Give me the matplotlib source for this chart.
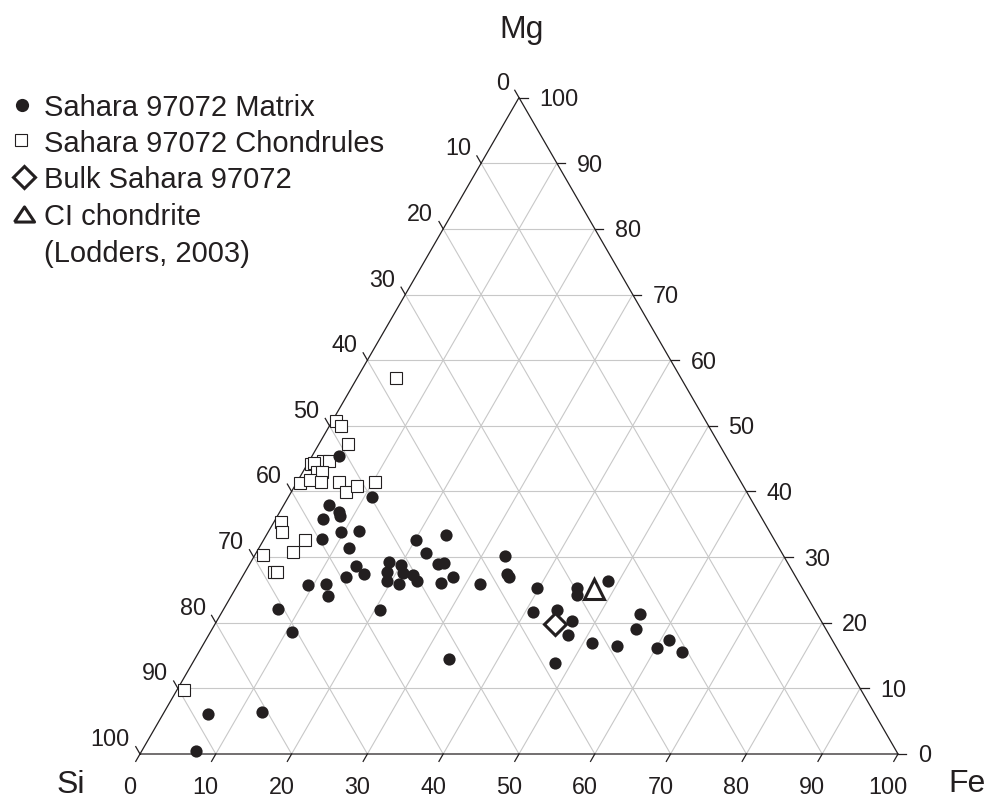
import numpy as np
import matplotlib
matplotlib.use("Agg")
import matplotlib.pyplot as plt
from matplotlib.markers import MarkerStyle

plt.rcParams['font.family'] = ['Liberation Sans', 'DejaVu Sans']

INK = '#231f20'
GRID = '#c8c8c8'

# ---------------- data (atomic-ish %, Si + Fe + Mg = 100) ----------------
matrix_fe = [3.6, 11.0, 5.9, 7.8, 8.3, 6.2, 9.6, 11.9, 7.7, 11.9,
             20.1, 23.7, 22.4, 14.1, 13.7, 15.9, 18.2, 18.8, 19.4, 20.0,
             20.9, 22.4, 23.4, 21.2, 24.9, 25.5, 26.7, 27.8, 9.2, 11.6,
             12.8, 7.2, 20.7, 10.7, 33.6, 5.9, 12.9, 7.2, 31.9, 33.0,
             34.7, 35.2, 39.7, 41.0, 44.0, 46.9, 47.4, 45.0, 45.5, 48.5,
             51.2, 54.7, 55.2, 55.9, 60.2, 61.1, 63.8, 47.8]
matrix_mg = [45.4, 39.2, 38.0, 36.9, 36.3, 35.8, 33.8, 33.9, 32.7, 31.4,
             32.6, 33.4, 30.6, 28.7, 27.0, 27.4, 29.2, 27.7, 26.3, 28.8,
             27.6, 27.3, 26.3, 25.9, 28.9, 29.1, 26.0, 26.9, 25.8, 25.9,
             24.1, 22.1, 22.0, 18.6, 14.4, 6.1, 6.4, 0.5, 25.9, 30.2,
             27.4, 27.0, 25.3, 21.7, 22.0, 20.2, 18.1, 25.3, 24.2, 26.4,
             16.9, 16.5, 21.4, 19.1, 16.1, 17.4, 15.5, 13.9]
matrix_si = [51.0, 49.8, 56.1, 55.3, 55.4, 58.0, 56.6, 54.2, 59.6, 56.7,
             47.3, 42.9, 47.0, 57.2, 59.3, 56.7, 52.6, 53.5, 54.3, 51.2,
             51.5, 50.3, 50.3, 52.9, 46.2, 45.4, 47.3, 45.3, 65.0, 62.5,
             63.1, 70.7, 57.3, 70.7, 52.0, 88.0, 80.7, 92.3, 42.2, 36.8,
             37.9, 37.8, 35.0, 37.3, 34.0, 32.9, 34.5, 29.7, 30.3, 25.1,
             31.9, 28.8, 23.4, 25.0, 23.7, 21.5, 20.7, 38.3]

chond_fe = [5.1, 0.5, 1.6, 3.9, 1.8, 2.6, 0.4, 0.7, 1.8, 2.5,
            0.5, 1.5, 3.1, 5.5, 7.2, 8.2, 10.2, 0.9, 1.8, 5.5,
            4.8, 1.1, 3.8, 4.2, 1.0]
chond_mg = [57.3, 50.8, 49.9, 47.2, 44.7, 44.6, 44.2, 44.4, 43.0, 43.0,
            41.3, 41.8, 41.5, 41.5, 39.9, 40.9, 41.5, 35.3, 33.8, 32.6,
            30.8, 30.3, 27.7, 27.7, 9.7]
chond_si = [37.6, 48.7, 48.5, 48.9, 53.5, 52.8, 55.4, 54.9, 55.2, 54.5,
            58.2, 56.7, 55.4, 53.0, 52.9, 50.9, 48.3, 63.8, 64.4, 61.9,
            64.4, 68.6, 68.5, 68.1, 89.3]

bulk_si, bulk_fe, bulk_mg = [35.4], [44.8], [19.8]
ci_si, ci_fe, ci_mg = [27.6], [47.3], [25.1]

tick_values = [0, 10, 20, 30, 40, 50, 60, 70, 80, 90, 100]
legend_labels = ['Sahara 97072 Matrix', 'Sahara 97072 Chondrules',
                 'Bulk Sahara 97072', 'CI chondrite', '(Lodders, 2003)']
apex_labels = ['Si', 'Fe', 'Mg']

H = np.sqrt(3) / 2


def proj(si, fe, mg):
    si, fe, mg = (np.asarray(a, float) for a in (si, fe, mg))
    tot = si + fe + mg
    fe, mg = fe / tot, mg / tot
    return fe + mg / 2, mg * H


fig = plt.figure(figsize=(9.87, 7.99), dpi=100)
ax = fig.add_axes([140 / 987, 45 / 799, 758 / 987, 656.4 / 799])
ax.set_xlim(0, 1)
ax.set_ylim(0, H)
ax.axis('off')

# grid
for v in tick_values[1:-1]:
    t = v / 100
    kw = dict(color=GRID, lw=0.8, zorder=1, solid_capstyle='butt')
    ax.plot([t / 2, 1 - t / 2], [t * H, t * H], **kw)               # const Mg
    ax.plot([t, t + (1 - t) / 2], [0, (1 - t) * H], **kw)          # const Fe
    ax.plot([(1 - t) / 2, 1 - t], [(1 - t) * H, 0], **kw)          # const Si

# outline
ax.plot([0, 1, 0.5, 0], [0, 0, H, 0], color=INK, lw=0.9, zorder=2,
        solid_joinstyle='miter', clip_on=False)

tl = 8.5 / 758
tfs = 16.8
for v in tick_values:
    t = v / 100
    # bottom (Fe)
    x0, y0 = t, 0
    ax.plot([x0, x0 - 0.5 * tl], [y0, y0 - H * tl], color=INK, lw=0.9, clip_on=False)
    ax.annotate(str(v), (x0, y0), xytext=(-10, -40), textcoords='offset pixels',
                ha='center', va='baseline', fontsize=tfs, color=INK)
    # left (Si)
    x0, y0 = (1 - t) / 2, (1 - t) * H
    ax.plot([x0, x0 - 0.5 * tl], [y0, y0 + H * tl], color=INK, lw=0.9, clip_on=False)
    ax.annotate(str(v), (x0, y0), xytext=(-10, 8), textcoords='offset pixels',
                ha='right', va='baseline', fontsize=tfs, color=INK)
    # right (Mg)
    x0, y0 = 1 - t / 2, t * H
    ax.plot([x0, x0 + tl], [y0, y0], color=INK, lw=0.9, clip_on=False)
    ax.annotate(str(v), (x0, y0), xytext=(20, -8.5), textcoords='offset pixels',
                ha='left', va='baseline', fontsize=tfs, color=INK)

# data
x, y = proj(matrix_si, matrix_fe, matrix_mg)
ax.plot(x, y, 'o', ls='none', ms=8.8, mfc=INK, mec=INK, mew=0, zorder=4, clip_on=False)
x, y = proj(chond_si, chond_fe, chond_mg)
ax.plot(x, y, 's', ls='none', ms=8.4, mfc='white', mec=INK, mew=0.8, zorder=3, clip_on=False)
x, y = proj(bulk_si, bulk_fe, bulk_mg)
ax.plot(x, y, ls='none', marker=MarkerStyle('D', joinstyle='miter'), ms=11,
        mfc='white', mec=INK, mew=2.2, zorder=5)
x, y = proj(ci_si, ci_fe, ci_mg)
ax.plot(x, y, ls='none', marker=MarkerStyle('^', joinstyle='miter'), ms=15,
        mfc='white', mec=INK, mew=2.2, zorder=5)

# overlay in pixel coordinates for legend & apex labels
lax = fig.add_axes([0, 0, 1, 1], zorder=10)
lax.set_xlim(0, 987)
lax.set_ylim(799, 0)
lax.axis('off')
lax.patch.set_alpha(0)

lax.plot([22], [104.5], 'o', ms=9.5, mfc=INK, mec=INK, mew=0)
lax.plot([21], [139.5], 's', ms=8.4, mfc='white', mec=INK, mew=0.8)
lax.plot([24], [176.5], ls='none', marker=MarkerStyle('D', joinstyle='miter'), ms=11,
         mfc='white', mec=INK, mew=2.2)
tri = MarkerStyle([(-1, -0.75), (1, -0.75), (0, 0.75), (-1, -0.75)], joinstyle='miter')
lax.plot([23.5], [214], ls='none', marker=tri, ms=14.5, mfc='white', mec=INK, mew=2.2)

baselines = [116, 152, 188.5, 225, 261.5]
for lab, b in zip(legend_labels, baselines):
    lax.text(44.5, b, lab, fontsize=21, color=INK, ha='left', va='baseline')

lax.text(71, 793, apex_labels[0], fontsize=23, color=INK, ha='center', va='baseline')
lax.text(948, 792, apex_labels[1], fontsize=23, color=INK, ha='left', va='baseline')
lax.text(522, 38, apex_labels[2], fontsize=23, color=INK, ha='center', va='baseline')

fig.savefig('out.png', dpi=100, facecolor='white')
